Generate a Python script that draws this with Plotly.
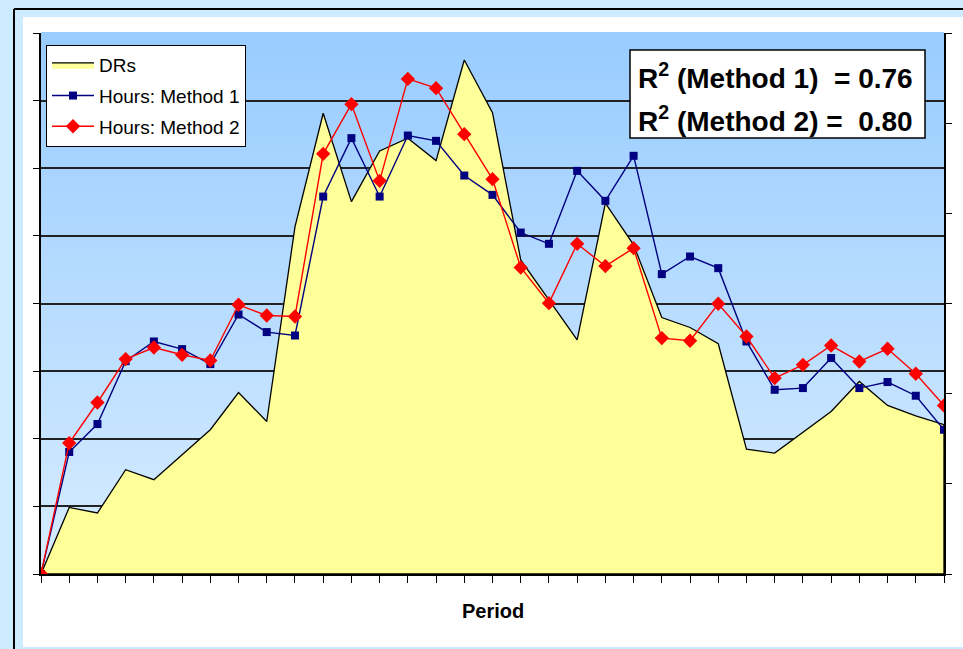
import plotly.graph_objects as go

# ---------------- data ----------------
periods = list(range(33))
drs = [0, 9.84, 9.02, 15.42, 13.94, 17.63, 21.33, 26.84, 22.55, 51.33,
       68.13, 55.07, 62.56, 64.44, 61.13, 76.01, 68.22, 46.45, 40.54, 34.63,
       54.83, 48.67, 37.93, 36.45, 34.04, 18.47, 17.88, 20.93, 24.03, 28.47,
       24.92, 23.40, 22.07]
hours_m1 = [0, 13.53, 16.63, 23.61, 25.79, 24.94, 23.28, 28.78, 26.83, 26.45,
            41.86, 48.34, 41.86, 48.63, 48.04, 44.19, 42.05, 37.87, 36.62, 44.71,
            41.39, 46.38, 33.26, 35.21, 33.92, 25.79, 20.43, 20.62, 23.95, 20.62,
            21.29, 19.77, 16.00]
hours_m2 = [0, 14.52, 19.02, 23.84, 25.12, 24.31, 23.68, 29.86, 28.67, 28.56,
            46.60, 52.11, 43.60, 54.91, 53.88, 48.78, 43.79, 33.99, 30.04, 36.62,
            34.15, 36.14, 26.16, 25.87, 29.97, 26.34, 21.73, 23.20, 25.34, 23.57,
            24.98, 22.21, 18.69]
left_ticks = list(range(0, 81, 10))
right_ticks = list(range(0, 61, 10))
series_names = ["DRs", "Hours: Method 1", "Hours: Method 2"]
r2_lines = ["R<sup>2</sup> (Method 1)\u00a0\u00a0= 0.76",
            "R<sup>2</sup> (Method 2) =\u00a0\u00a00.80"]
x_title = "Period"

# ---------------- layout helpers ----------------
W, H = 963, 649
ML, MR, MT, MB = 41, 19, 33, 75
PW, PH = W - ML - MR, H - MT - MB
FONT = "Arial, Liberation Sans, sans-serif"


def px_x(px):
    return (px - ML) / PW


def px_y(py):
    return (H - MB - py) / PH


# closed polygon for the DRs area (baseline from the data's own ends)
area_x = periods + [periods[-1], periods[0]]
area_y = drs + [0, 0]

fig = go.Figure()
fig.add_trace(go.Scatter(
    x=area_x, y=area_y, name=series_names[0], mode="lines", fill="toself",
    fillcolor="#FFFF99", line=dict(color="black", width=1.3),
    yaxis="y", legendgroup="g1", hoveron="points"))
fig.add_trace(go.Scatter(
    x=periods, y=hours_m1, name=series_names[1], mode="lines+markers",
    line=dict(color="#000080", width=1.4),
    marker=dict(symbol="square", size=8, color="#000080"),
    yaxis="y2", legendgroup="g2"))
fig.add_trace(go.Scatter(
    x=periods, y=hours_m2, name=series_names[2], mode="lines+markers",
    line=dict(color="#FF0000", width=1.4),
    marker=dict(symbol="diamond", size=11, color="#FF0000"),
    yaxis="y2", legendgroup="g3"))

shapes = []
# outer frame: white chart area and black border
shapes.append(dict(type="rect", xref="paper", yref="paper",
                   x0=px_x(23), x1=px_x(970), y0=px_y(647), y1=px_y(17),
                   fillcolor="white", line=dict(width=0), layer="below"))
shapes.append(dict(type="line", xref="paper", yref="paper",
                   x0=px_x(14), x1=px_x(970), y0=px_y(9), y1=px_y(9),
                   line=dict(color="black", width=2), layer="below"))
shapes.append(dict(type="line", xref="paper", yref="paper",
                   x0=px_x(14), x1=px_x(14), y0=px_y(9), y1=px_y(660),
                   line=dict(color="black", width=2), layer="below"))
# gradient plot background
n = 60
top = (153, 204, 255)
bot = (214, 236, 255)
for i in range(n):
    t = i / (n - 1)
    c = tuple(round(top[k] + (bot[k] - top[k]) * t) for k in range(3))
    shapes.append(dict(type="rect", xref="x domain", yref="y domain",
                       x0=0, x1=1, y0=1 - (i + 1) / n, y1=1 - i / n + 0.002,
                       fillcolor="rgb(%d,%d,%d)" % c, line=dict(width=0),
                       layer="below"))
# R2 box
shapes.append(dict(type="rect", xref="paper", yref="paper",
                   x0=px_x(630), x1=px_x(925), y0=px_y(138), y1=px_y(50),
                   fillcolor="white", line=dict(color="black", width=1.5),
                   layer="above"))

annotations = [
    dict(xref="paper", yref="paper", x=px_x(636), y=px_y(76),
         xanchor="left", yanchor="middle", text=r2_lines[0], showarrow=False,
         font=dict(family=FONT, size=28, color="black", weight="bold")),
    dict(xref="paper", yref="paper", x=px_x(636), y=px_y(119),
         xanchor="left", yanchor="middle", text=r2_lines[1], showarrow=False,
         font=dict(family=FONT, size=28, color="black", weight="bold")),
    dict(xref="paper", yref="paper", x=0.5, y=px_y(611),
         xanchor="center", yanchor="middle", text="<b>%s</b>" % x_title,
         showarrow=False, font=dict(family=FONT, size=20, color="black")),
]

fig.update_layout(
    width=W, height=H,
    margin=dict(l=ML, r=MR, t=MT, b=MB, pad=0),
    paper_bgcolor="#CCEBFF",
    plot_bgcolor="rgba(0,0,0,0)",
    font=dict(family=FONT, color="black"),
    shapes=shapes,
    annotations=annotations,
    showlegend=True,
    legend=dict(x=px_x(46), y=px_y(45), xanchor="left", yanchor="top",
                bgcolor="white", bordercolor="black", borderwidth=1,
                font=dict(family=FONT, size=19, color="black"),
                itemwidth=42, tracegroupgap=3, traceorder="grouped"),
    xaxis=dict(range=[0, 32], tickmode="linear", tick0=0, dtick=1,
               ticks="outside", ticklen=7, tickcolor="black", tickwidth=1,
               showticklabels=False, showgrid=False, zeroline=False,
               showline=True, linecolor="black", linewidth=1.5),
    yaxis=dict(range=[0, 80], tickmode="array", tickvals=left_ticks,
               ticks="outside", ticklen=6, tickcolor="black", tickwidth=1,
               showticklabels=False, showgrid=True, gridcolor="#222222",
               gridwidth=1.5, zeroline=False,
               showline=True, linecolor="black", linewidth=1.5),
    yaxis2=dict(range=[0, 60], tickmode="array", tickvals=right_ticks,
                overlaying="y", side="right",
                ticks="outside", ticklen=6, tickcolor="black", tickwidth=1,
                showticklabels=False, showgrid=False, zeroline=False,
                showline=True, linecolor="black", linewidth=1.5),
)

fig.write_html("out.html",
               config={"displayModeBar": False},
               post_script="document.body.style.margin='0';"
                           "document.body.style.overflow='hidden';")
